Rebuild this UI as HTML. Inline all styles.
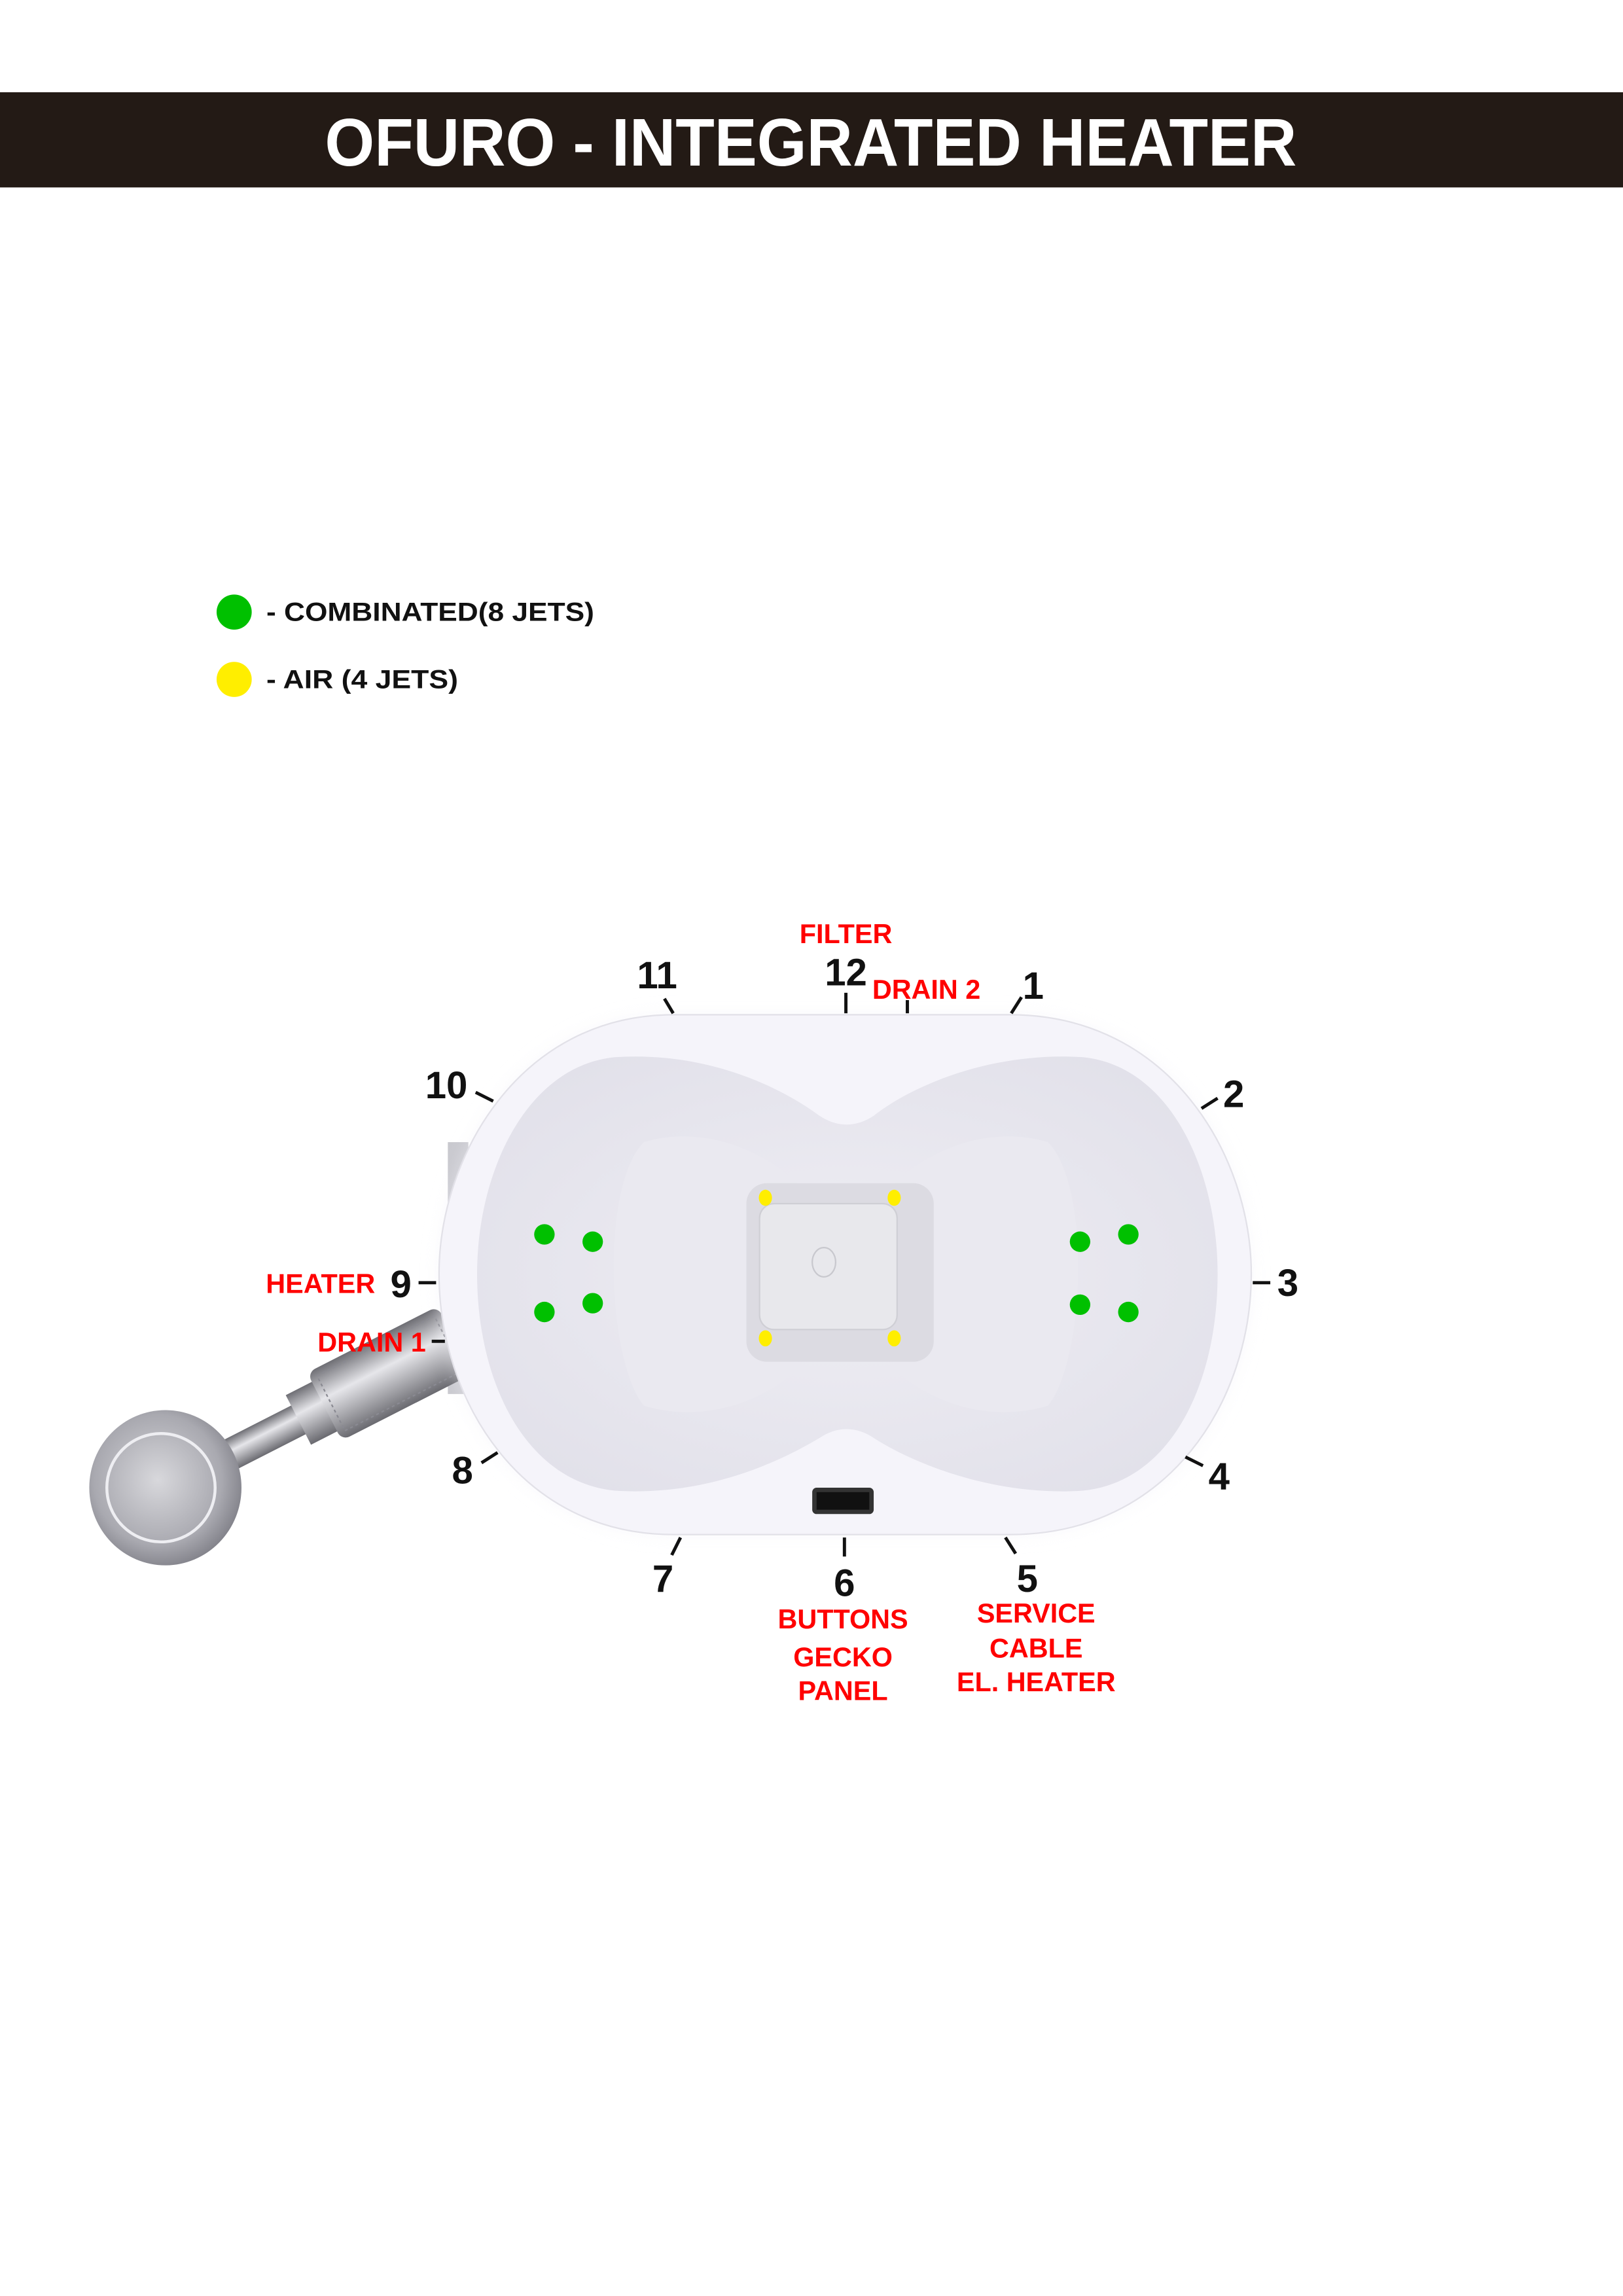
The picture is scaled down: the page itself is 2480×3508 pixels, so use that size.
<!DOCTYPE html>
<html><head><meta charset="utf-8"><style>
html,body{margin:0;padding:0;background:#fff;}
svg{display:block;}
text{font-family:"Liberation Sans",Arial,sans-serif;font-weight:bold;}
</style></head><body>
<svg width="2480" height="3508" viewBox="0 0 1109 1568" preserveAspectRatio="none" xmlns="http://www.w3.org/2000/svg">
<defs>
<radialGradient id="basin" cx="0.5" cy="0.5" r="0.6">
<stop offset="0" stop-color="#efeef4"/><stop offset="1" stop-color="#e2e1ea"/>
</radialGradient>
<radialGradient id="disk" cx="0.45" cy="0.45" r="0.6">
<stop offset="0" stop-color="#d8d8dc"/><stop offset="0.7" stop-color="#a9a9b0"/><stop offset="1" stop-color="#7c7c84"/>
</radialGradient>
<linearGradient id="pipe" x1="0" y1="0" x2="0" y2="1">
<stop offset="0" stop-color="#6e6e74"/><stop offset="0.4" stop-color="#e6e6ea"/><stop offset="1" stop-color="#6a6a70"/>
</linearGradient>
<filter id="sh" x="-10%" y="-10%" width="120%" height="120%"><feGaussianBlur stdDeviation="6"/></filter>
</defs>
<rect x="0" y="63" width="1109" height="65" fill="#231a15"/>
<text x="222" y="113" font-size="46" fill="#fff" textLength="664" lengthAdjust="spacingAndGlyphs">OFURO - INTEGRATED HEATER</text>

<circle cx="160" cy="418" r="12" fill="#00c000"/>
<text x="182" y="424" font-size="18" fill="#111" textLength="224" lengthAdjust="spacingAndGlyphs">-  COMBINATED(8 JETS)</text>
<circle cx="160" cy="464" r="12" fill="#ffee00"/>
<text x="182" y="470" font-size="18" fill="#111" textLength="131" lengthAdjust="spacingAndGlyphs">-  AIR (4 JETS)</text>

<rect x="306" y="780" width="14" height="172" fill="#c9c9cf"/>
<g transform="rotate(-27 113 1016)">
<rect x="113" y="1005" width="130" height="22" fill="url(#pipe)"/>
<rect x="215" y="997" width="22" height="38" fill="url(#pipe)"/>
<rect x="235" y="990" width="100" height="52" rx="6" fill="url(#pipe)"/>
<rect x="240" y="995" width="90" height="42" fill="none" stroke="#8a8a92" stroke-width="1" stroke-dasharray="2 2"/>
</g>
<ellipse cx="113" cy="1016" rx="52" ry="53" fill="url(#disk)"/>
<circle cx="110" cy="1016" r="37" fill="none" stroke="#eeeef2" stroke-width="2"/>

<path d="M460,693 L690,693 C800,693 855,790 855,870 C855,955 800,1048 690,1048 L460,1048 C355,1048 300,955 300,870 C300,790 355,693 460,693 Z" fill="#f3f2f8" filter="url(#sh)" opacity="0.5"/>
<path d="M460,693 L690,693 C800,693 855,790 855,870 C855,955 800,1048 690,1048 L460,1048 C355,1048 300,955 300,870 C300,790 355,693 460,693 Z" fill="#f5f4fa" stroke="#e2e1e8" stroke-width="1"/>
<path d="M420,722 C480,718 530,740 560,762 C572,770 585,770 597,762 C625,740 680,718 740,722 C800,728 832,800 832,870 C832,945 800,1012 740,1018 C680,1022 625,1000 597,982 C585,974 572,974 560,982 C530,1000 480,1022 420,1018 C360,1012 326,945 326,870 C326,800 360,728 420,722 Z" fill="url(#basin)"/>
<path d="M440,780 C480,768 520,785 545,808 L545,935 C520,958 480,972 440,960 C415,930 410,810 440,780 Z" fill="#eae9f0"/>
<path d="M716,780 C676,768 636,785 611,808 L611,935 C636,958 676,972 716,960 C741,930 746,810 716,780 Z" fill="#eae9f0"/>
<rect x="510" y="808" width="128" height="122" rx="14" fill="#dcdbe2"/>
<rect x="519" y="822" width="94" height="86" rx="10" fill="#e8e8ec" stroke="#cfcfd5"/>
<ellipse cx="563" cy="862" rx="8" ry="10" fill="none" stroke="#c8c8ce"/>
<rect x="555" y="1016" width="42" height="18" rx="3" fill="#333"/>
<rect x="558" y="1019" width="36" height="12" fill="#111"/>

<g fill="#00c000">
<circle cx="372" cy="843" r="7"/><circle cx="405" cy="848" r="7"/><circle cx="372" cy="896" r="7"/><circle cx="405" cy="890" r="7"/>
<circle cx="738" cy="848" r="7"/><circle cx="771" cy="843" r="7"/><circle cx="738" cy="891" r="7"/><circle cx="771" cy="896" r="7"/>
</g>
<g fill="#ffee00">
<ellipse cx="523" cy="818" rx="4.5" ry="5.5"/><ellipse cx="611" cy="818" rx="4.5" ry="5.5"/><ellipse cx="523" cy="914" rx="4.5" ry="5.5"/><ellipse cx="611" cy="914" rx="4.5" ry="5.5"/>
</g>

<g stroke="#111" stroke-width="2.2">
<line x1="454" y1="682" x2="460" y2="692"/>
<line x1="578" y1="678" x2="578" y2="692"/>
<line x1="620" y1="683" x2="620" y2="692"/>
<line x1="698" y1="681" x2="691" y2="692"/>
<line x1="832" y1="750" x2="821" y2="757"/>
<line x1="856" y1="876" x2="868" y2="876"/>
<line x1="810" y1="995" x2="822" y2="1001"/>
<line x1="687" y1="1050" x2="694" y2="1061"/>
<line x1="577" y1="1050" x2="577" y2="1063"/>
<line x1="465" y1="1050" x2="459" y2="1062"/>
<line x1="340" y1="992" x2="329" y2="999"/>
<line x1="286" y1="876" x2="298" y2="876"/>
<line x1="325" y1="746" x2="337" y2="752"/>
<line x1="295" y1="916" x2="304" y2="916"/>
</g>

<g font-size="26" fill="#111" text-anchor="middle">
<text x="449" y="675">11</text>
<text x="578" y="673">12</text>
<text x="706" y="682">1</text>
<text x="843" y="756">2</text>
<text x="880" y="885">3</text>
<text x="833" y="1017">4</text>
<text x="702" y="1087">5</text>
<text x="577" y="1090">6</text>
<text x="453" y="1087">7</text>
<text x="316" y="1013">8</text>
<text x="274" y="886">9</text>
<text x="305" y="750">10</text>
</g>
<g font-size="18.5" fill="#ff0000" text-anchor="middle">
<text x="578" y="644">FILTER</text>
<text x="633" y="682">DRAIN 2</text>
<text x="219" y="883">HEATER</text>
<text x="254" y="923">DRAIN 1</text>
<text x="576" y="1112">BUTTONS</text>
<text x="576" y="1138">GECKO</text>
<text x="576" y="1161">PANEL</text>
<text x="708" y="1108">SERVICE</text>
<text x="708" y="1132">CABLE</text>
<text x="708" y="1155">EL. HEATER</text>
</g>
</svg>
</body></html>
